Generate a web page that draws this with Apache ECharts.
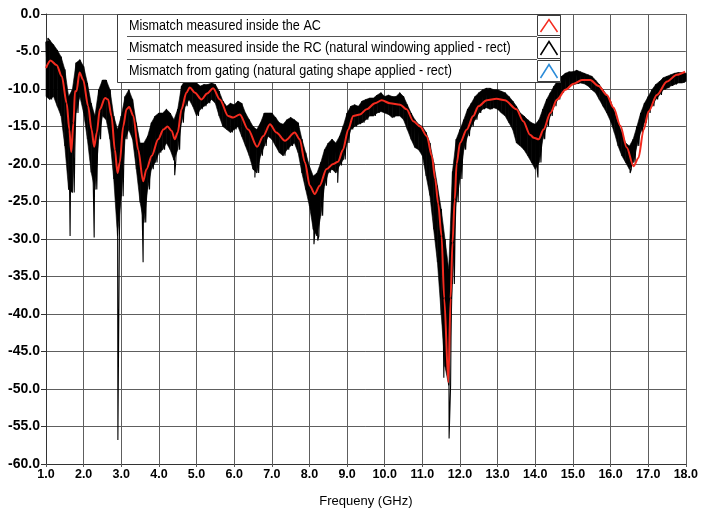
<!DOCTYPE html>
<html>
<head>
<meta charset="utf-8">
<script src="https://cdn.jsdelivr.net/npm/echarts@6/dist/echarts.min.js"></script>
<style>
  html, body { margin: 0; padding: 0; background: #ffffff; }
  #chart { width: 701px; height: 513px; }
</style>
</head>
<body>
<div id="chart"></div>
<script>
// Smooth mismatch curve measured inside the AC (frequency in GHz, level in dB)
const redFreq = [
  1.0, 1.12, 1.28, 1.42, 1.55, 1.62, 1.67, 1.73, 1.77, 1.81, 1.89, 1.99,
  2.12, 2.21, 2.28, 2.35, 2.43, 2.57, 2.65, 2.74, 2.83, 2.90, 2.96,
  3.05, 3.14, 3.21, 3.32, 3.45, 3.58, 3.67, 3.81, 3.98,
  4.12, 4.23, 4.34, 4.42, 4.50, 4.60, 4.73, 4.82, 4.96,
  5.13, 5.28, 5.44, 5.62, 5.84, 5.97, 6.15, 6.37, 6.61, 6.77, 6.95,
  7.12, 7.35, 7.61, 7.74, 7.88, 8.01, 8.14, 8.27, 8.45, 8.63, 8.76, 8.89,
  9.03, 9.16, 9.34, 9.52, 9.74, 9.92, 10.14, 10.41, 10.58, 10.76, 10.94,
  11.12, 11.25, 11.34, 11.42, 11.51, 11.58, 11.69, 11.75, 11.80, 11.86, 11.91,
  12.00, 12.18, 12.35, 12.49, 12.71, 12.97, 13.19, 13.50, 13.68, 13.86, 13.96,
  14.09, 14.22, 14.40, 14.58, 14.80, 15.02, 15.24, 15.46, 15.68, 15.90,
  16.08, 16.26, 16.43, 16.61, 16.74, 16.88, 17.01, 17.23, 17.50, 17.76, 17.98
];
const redDb = [
  -7.2, -6.2, -6.8, -8.3, -11.9, -15.4, -18.4, -14.5, -10.3, -10.3, -7.8, -8.8,
  -12.3, -15.4, -17.7, -15.8, -12.7, -11.2, -11.4, -13.6, -18.1, -21.2, -19.8,
  -15.0, -12.7, -12.4, -13.6, -18.1, -22.3, -20.7, -18.9, -16.7,
  -15.4, -15.0, -15.6, -16.7, -15.8, -12.7, -10.5, -9.8, -10.5,
  -11.4, -10.6, -9.9, -11.4, -13.6, -13.8, -13.4, -15.4, -17.7, -16.3, -14.7,
  -15.8, -16.9, -15.8, -16.7, -19.8, -22.9, -24.0, -22.9, -20.7, -20.0, -19.7, -18.1,
  -15.4, -13.6, -13.4, -12.7, -11.9, -11.5, -11.9, -12.1, -12.7, -14.3, -15.0,
  -16.3, -18.9, -22.0, -25.3, -29.6, -37.9, -49.1, -37.9, -30.5, -24.7, -20.0,
  -17.2, -15.4, -13.6, -12.3, -11.5, -11.3, -11.5, -12.7, -14.3, -16.1, -16.5,
  -16.7, -15.4, -13.2, -11.4, -10.1, -9.3, -8.8, -8.8, -9.6, -10.8,
  -12.5, -14.9, -17.8, -20.3, -19.2, -15.4, -13.0, -10.8, -9.0, -8.1, -7.7
];

// Noisy RC trace: upper and lower edge of the ripple band, every 0.1 GHz from 1.0 GHz
const bandStart = 1.0;
const bandStep = 0.1;
const envTop = [
  -3.7, -3.5, -4.1, -4.8, -5.7, -7.4, -11.0, -10.1, -6.5, -6.1,
  -7.0, -9.2, -11.9, -13.6, -10.1, -8.8, -8.8, -10.1, -13.6, -15.4,
  -13.6, -11.0, -10.1, -11.4, -14.5, -17.2, -17.2, -16.3, -14.5, -13.6,
  -13.2, -13.2, -12.7, -13.2, -14.1, -12.7, -9.6, -8.8, -8.3, -8.8,
  -9.2, -9.6, -9.4, -9.4, -9.2, -9.4, -10.3, -11.6, -12.3, -11.9,
  -12.1, -11.6, -11.9, -13.2, -14.1, -15.0, -15.4, -14.5, -13.2, -13.2,
  -13.2, -13.8, -14.5, -14.7, -14.1, -13.8, -14.1, -14.5, -16.7, -18.5,
  -20.3, -21.6, -21.2, -19.8, -18.1, -17.2, -16.7, -17.2, -16.3, -14.9,
  -13.2, -12.3, -12.1, -12.3, -11.6, -11.4, -11.2, -11.2, -10.8, -10.5,
  -11.0, -10.8, -11.0, -11.0, -10.5, -11.0, -12.1, -13.2, -14.1, -14.7,
  -15.0, -15.8, -17.2, -19.8, -22.9, -26.0, -30.0, -34.0, -21.0, -16.7,
  -15.4, -14.1, -12.7, -11.9, -11.0, -10.5, -10.1, -9.9, -9.9, -10.1,
  -10.1, -10.3, -10.5, -11.0, -11.6, -12.3, -13.2, -13.6, -14.1, -14.5,
  -14.7, -14.1, -12.7, -11.4, -10.5, -9.6, -8.8, -8.3, -7.9, -7.7,
  -7.7, -7.5, -7.7, -7.9, -8.1, -8.3, -8.8, -9.4, -10.1, -10.8,
  -11.6, -13.0, -14.5, -15.8, -17.2, -17.6, -16.7, -15.0, -13.2, -11.9,
  -11.0, -10.1, -9.4, -9.0, -8.5, -8.3, -8.1, -7.9, -7.8, -7.8,
  -7.9
];
const envBottom = [
  -11.0, -11.4, -11.0, -12.3, -13.6, -17.6, -23.4, -23.8, -13.2, -11.0,
  -13.2, -16.7, -21.1, -23.4, -16.7, -13.6, -14.1, -16.7, -22.0, -29.6,
  -24.3, -16.7, -15.4, -16.7, -20.7, -25.1, -27.8, -23.4, -20.7, -19.8,
  -18.5, -18.1, -17.2, -18.1, -19.5, -18.1, -14.5, -12.3, -11.4, -12.3,
  -13.6, -12.7, -12.3, -11.9, -11.4, -11.9, -13.6, -15.0, -15.4, -15.8,
  -15.4, -15.0, -16.3, -17.6, -18.9, -20.7, -21.2, -18.9, -17.6, -16.3,
  -16.7, -17.6, -18.5, -18.9, -18.1, -17.6, -17.2, -18.5, -21.2, -23.4,
  -25.6, -28.7, -29.6, -26.9, -22.9, -21.2, -20.7, -21.2, -20.2, -19.4,
  -17.2, -15.4, -15.0, -14.7, -14.5, -14.1, -13.6, -13.6, -13.2, -13.0,
  -13.2, -13.4, -13.8, -13.6, -13.6, -14.1, -15.4, -16.7, -17.8, -18.1,
  -18.9, -21.6, -24.2, -28.7, -33.1, -40.0, -47.0, -49.5, -36.0, -25.1,
  -22.0, -18.1, -16.3, -15.0, -14.1, -13.2, -12.7, -12.5, -12.7, -12.5,
  -12.7, -13.2, -13.6, -14.5, -15.4, -17.2, -17.6, -18.1, -18.9, -19.8,
  -20.7, -19.8, -16.7, -15.0, -13.6, -12.3, -11.4, -10.5, -10.1, -9.6,
  -9.4, -9.3, -9.2, -9.3, -9.6, -10.1, -10.5, -11.4, -12.3, -13.2,
  -14.3, -15.8, -17.6, -18.9, -19.8, -20.7, -19.8, -17.6, -15.8, -14.5,
  -13.2, -12.3, -11.4, -10.8, -10.1, -9.9, -9.6, -9.4, -9.2, -9.2,
  -9.0
];

// Isolated narrow spikes of the RC trace
const spikeFreq = [1.05, 1.64, 2.28, 2.91, 3.58, 4.42, 6.55, 8.12, 8.22, 8.75, 11.57, 11.71, 14.07, 16.52];
const spikeDb   = [-3.2, -29.6, -29.8, -56.8, -33.1, -21.5, -21.8, -30.7, -30.2, -22.5, -48.5, -56.6, -21.8, -21.2];

const legendNames = [
  'Mismatch measured inside the AC',
  'Mismatch measured inside the RC (natural windowing applied - rect)',
  'Mismatch from gating (natural gating shape applied - rect)'
];
const legendColors = ['#f42b1f', '#000000', '#2a8bd8'];

const axisFont = "'Liberation Sans', Arial, sans-serif";

const bandFreqs = envTop.map(function (_, i) { return +(bandStart + i * bandStep).toFixed(2); });

// One quad per 0.1 GHz slice of the ripple band: [f0, top0, bottom0, f1, top1, bottom1]
const bandSlices = [];
for (let i = 0; i < bandFreqs.length - 1; i++) {
  bandSlices.push([bandFreqs[i], envTop[i], envBottom[i], bandFreqs[i + 1], envTop[i + 1], envBottom[i + 1]]);
}

// Zig-zag between the band edges plus the isolated spikes
const rcData = [];
bandFreqs.forEach(function (f, i) {
  rcData.push([f, envTop[i]]);
  rcData.push([Math.min(+(f + bandStep / 2).toFixed(3), 18), envBottom[i]]);
});
spikeFreq.forEach(function (f, i) { rcData.push([f, spikeDb[i]]); });
rcData.sort(function (a, b) { return a[0] - b[0]; });

const acData = redFreq.map(function (f, i) { return [f, redDb[i]]; });

function renderBandSlice(params, api) {
  const a = api.coord([api.value(0), api.value(1)]);
  const b = api.coord([api.value(3), api.value(4)]);
  const c = api.coord([api.value(3), api.value(5)]);
  const d = api.coord([api.value(0), api.value(2)]);
  return {
    type: 'polygon',
    shape: { points: [a, b, c, d] },
    style: { fill: '#000000', stroke: '#000000', lineWidth: 0.6 }
  };
}

// Legend box drawn as a table: text cells on the left, line icons on the right
const legendGraphics = [];
const boxLeft = 117.5, boxRight = 560.5;
const rowEdges = [14.5, 36.5, 59.5, 82.5];
legendGraphics.push({
  type: 'rect', z: 100,
  shape: { x: boxLeft, y: rowEdges[0], width: boxRight - boxLeft, height: rowEdges[3] - rowEdges[0] },
  style: { fill: '#ffffff', stroke: '#3c3c3c', lineWidth: 1 }
});
legendNames.forEach(function (name, i) {
  const top = rowEdges[i], bottom = rowEdges[i + 1];
  if (i > 0) {
    legendGraphics.push({
      type: 'line', z: 101,
      shape: { x1: 127, y1: top, x2: 537, y2: top },
      style: { stroke: '#555555', lineWidth: 1 }
    });
  }
  legendGraphics.push({
    type: 'text', z: 102,
    x: 129, y: (top + bottom) / 2 + 0.5, scaleX: 0.9,
    style: {
      x: 0, y: 0, text: name,
      fill: '#000000', font: "14px " + axisFont,
      verticalAlign: 'middle', align: 'left'
    }
  });
  legendGraphics.push({
    type: 'rect', z: 101,
    shape: { x: 537.5, y: top + 1, width: 23, height: bottom - top - 2 },
    style: { fill: '#ffffff', stroke: '#3c3c3c', lineWidth: 1 }
  });
  legendGraphics.push({
    type: 'polyline', z: 102,
    shape: { points: [[540.5, bottom - 4.5], [549, top + 5], [557.5, bottom - 4.5]] },
    style: { fill: null, stroke: legendColors[i], lineWidth: 1.5 }
  });
});

const chart = echarts.init(document.getElementById('chart'), null, { renderer: 'canvas' });
chart.setOption({
  animation: false,
  backgroundColor: '#ffffff',
  grid: { left: 46, right: 15, top: 14, bottom: 47, containLabel: false },
  xAxis: {
    type: 'value', min: 1, max: 18, interval: 1,
    name: 'Frequeny (GHz)', nameLocation: 'middle', nameGap: 31,
    nameTextStyle: { fontFamily: axisFont, fontSize: 13, color: '#000000' },
    axisLine: { show: true, onZero: false, lineStyle: { color: '#333333', width: 1 } },
    axisTick: { show: true, length: 3, lineStyle: { color: '#555555' } },
    axisLabel: {
      margin: 4, fontFamily: axisFont, fontSize: 12.5, fontWeight: 'bold', color: '#000000',
      formatter: function (v) { return v.toFixed(1); }
    },
    splitLine: { show: true, lineStyle: { color: '#5e5e5e', width: 1 } }
  },
  yAxis: {
    type: 'value', min: -60, max: 0, interval: 5,
    axisLine: { show: true, onZero: false, lineStyle: { color: '#333333', width: 1 } },
    axisTick: { show: true, length: 5, lineStyle: { color: '#333333' } },
    axisLabel: {
      margin: 6, fontFamily: axisFont, fontSize: 14, fontWeight: 'bold', color: '#000000',
      formatter: function (v) { return v.toFixed(1); }
    },
    splitLine: { show: true, lineStyle: { color: '#5e5e5e', width: 1 } }
  },
  series: [
    {
      name: 'rc-band', type: 'custom', data: bandSlices,
      encode: { x: [0, 3], y: [1, 2, 4, 5] },
      renderItem: renderBandSlice, silent: true, z: 2
    },
    {
      name: legendNames[1], type: 'line', data: rcData,
      showSymbol: false, symbol: 'none', sampling: null,
      lineStyle: { color: '#000000', width: 1.1 }, z: 2
    },
    {
      name: legendNames[0], type: 'line', data: acData,
      showSymbol: false, symbol: 'none', smooth: 0.3, smoothMonotone: 'x',
      lineStyle: { color: legendColors[0], width: 2 }, z: 3
    },
    {
      name: legendNames[2], type: 'line', data: [],
      showSymbol: false, symbol: 'none',
      lineStyle: { color: legendColors[2], width: 1.5 }, z: 1
    }
  ],
  graphic: legendGraphics
});
</script>
</body>
</html>
